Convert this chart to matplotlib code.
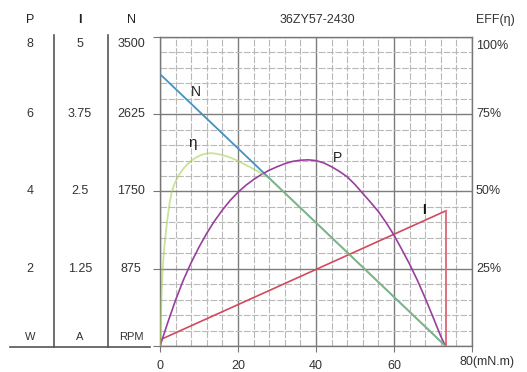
import matplotlib
matplotlib.use('Agg')
import matplotlib.pyplot as plt
from matplotlib.ticker import MultipleLocator
from matplotlib.transforms import blended_transform_factory as btf, offset_copy

plt.rcParams['font.family'] = ['Liberation Sans', 'DejaVu Sans']

# ---------------- data ----------------
title = "36ZY57-2430"
x_ticks = [0, 20, 40, 60]
x_last_label = "80(mN.m)"

p_ticks = [2, 4, 6, 8]
p_labels = ["2", "4", "6", "8"]
i_ticks = [1.25, 2.5, 3.75, 5]
i_labels = ["1.25", "2.5", "3.75", "5"]
n_ticks = [875, 1750, 2625, 3500]
n_labels = ["875", "1750", "2625", "3500"]
eff_ticks = [25, 50, 75, 100]
eff_labels = ["25%", "50%", "75%", "100%"]

# speed N (RPM)
n_torque = [0, 73.2]
n_speed = [3080, 0]

# current I (A)
i_torque = [0, 73.4, 73.4]
i_current = [0.10, 2.19, 0.0]

# efficiency (%)
eff_torque = [0.1, 0.2, 0.35, 0.5, 0.7, 1.0, 1.3, 1.7, 2.1, 2.5, 3.0, 3.5,
              4.0, 5.0, 6.0, 7.0, 8.0, 9.0, 10, 11, 12, 13, 14, 16, 18, 20,
              22, 24, 26, 28, 30, 32, 36, 40, 44, 48, 52, 56, 60, 64, 68, 73.2]
eff_vals = [0, 7, 14, 20, 25, 30.5, 34.5, 39, 43, 46.5, 49.8, 51.8,
            53.3, 55.6, 57.4, 58.8, 59.9, 60.8, 61.5, 62.0, 62.3, 62.4, 62.3,
            61.8, 61.0, 59.9, 58.6, 57.3, 55.9, 54.2, 51.9, 49.5, 44.7, 39.9,
            35.1, 30.3, 25.5, 20.7, 15.9, 11.1, 6.3, 0]

# output power P (W)
p_torque = [0, 2, 4, 6, 8, 10, 12, 14, 16, 18, 20, 22, 24, 26, 28, 30, 32,
            34, 36, 38, 40, 42, 44, 46, 48, 50, 52, 54, 56, 58, 60, 62, 64,
            66, 68, 70, 72, 73.2]
p_vals = [0, 0.61, 1.19, 1.71, 2.16, 2.56, 2.92, 3.24, 3.52, 3.77, 3.98,
          4.16, 4.31, 4.44, 4.55, 4.64, 4.72, 4.78, 4.81, 4.82, 4.80, 4.74,
          4.64, 4.52, 4.38, 4.18, 3.95, 3.72, 3.48, 3.19, 2.87, 2.50, 2.12,
          1.70, 1.24, 0.75, 0.25, 0]

# ---------------- figure ----------------
W, H = 527, 372
fig = plt.figure(figsize=(W / 100, H / 100), dpi=100)
fig.patch.set_facecolor('white')

def fx(px):
    return px / W

def fy(py):
    return 1 - py / H

left, right, top, bottom = 160, 472, 37, 346
ax = fig.add_axes([fx(left), fy(bottom), (right - left) / W, (bottom - top) / H])
ax.set_xlim(0, 80)
ax.set_ylim(0, 100)

ax.xaxis.set_major_locator(MultipleLocator(20))
ax.xaxis.set_minor_locator(MultipleLocator(4))
ax.yaxis.set_major_locator(MultipleLocator(25))
ax.yaxis.set_minor_locator(MultipleLocator(5))
ax.grid(which='major', color='#7d7d7d', lw=1.0)
ax.grid(which='minor', color='#b8b8b8', lw=0.8, linestyle=(0, (6, 1.5)))
ax.set_axisbelow(True)
for s in ax.spines.values():
    s.set_color('#777777')
    s.set_linewidth(1.0)

ax.tick_params(axis='both', which='minor', length=0)
ax.tick_params(axis='x', which='major', length=4, color='#777777',
               labelsize=9, labelcolor='#333333', pad=6)
ax.tick_params(axis='y', which='major', left=True, right=True, length=5,
               color='#777777', labelleft=False, labelright=False)
ax.set_xticks(x_ticks + [80])
ax.set_xticklabels([str(v) for v in x_ticks] + [""])
ax.text(459 / W, fy(362), x_last_label, transform=fig.transFigure,
        fontsize=9, color='#333333', ha='left', va='center')

# twin axes for each scale
axN = ax.twinx(); axN.set_ylim(0, 3500); axN.set_axis_off()
axI = ax.twinx(); axI.set_ylim(0, 5); axI.set_axis_off()
axP = ax.twinx(); axP.set_ylim(0, 8); axP.set_axis_off()
axE = ax.twinx(); axE.set_ylim(0, 100); axE.set_axis_off()

c_n = '#4392c4'
c_eff = '#a6cf55'
c_p = '#9a3e9e'
c_i = '#d04a5c'

axN.plot(n_torque, n_speed, color=c_n, lw=1.3)
axP.plot(p_torque, p_vals, color=c_p, lw=1.2)
axI.plot(i_torque[:2], i_current[:2], color=c_i, lw=1.2)
axI.plot(i_torque[1:], i_current[1:], color='#e0707e', lw=1.4)
axE.plot(eff_torque, eff_vals, color=c_eff, lw=1.3, alpha=0.6)

# curve labels
axN.text(9.2, 2880, "N", fontsize=10, ha='center', va='center', color='#222222')
axE.text(8.4, 65.7, "η", fontsize=11, ha='center', va='center', color='#222222')
axP.text(45.6, 4.87, "P", fontsize=10, ha='center', va='center', color='#222222')
axI.text(67.7, 2.2, "I", fontsize=10, ha='center', va='center', color='#111111',
         fontweight='bold')

# left columns
txt_kw = dict(fontsize=9, color='#333333', ha='center', va='center')
cols = [(30, axP, p_ticks, p_labels, "P", "W"),
        (80, axI, i_ticks, i_labels, "I", "A"),
        (131, axN, n_ticks, n_labels, "N", "RPM")]
for xpx, a, vals, labs, head, unit in cols:
    tr = btf(fig.transFigure, a.transData)
    for v, lab in zip(vals, labs):
        t = tr
        if v == vals[-1]:
            t = offset_copy(tr, fig=fig, y=-7.5, units='dots')
        fig.text(fx(xpx), v, lab, transform=t, **txt_kw)
    fig.text(fx(xpx), fy(20), head, fontsize=9, color='#222222', ha='center',
             va='center', fontweight='bold' if head == "I" else 'normal')
    fig.text(fx(xpx), fy(337), unit, fontsize=8, color='#333333', ha='center',
             va='center')

# column separators and base line
for xpx in (53.5, 107.5):
    fig.add_artist(plt.Line2D([fx(xpx), fx(xpx)], [fy(35), fy(347)],
                              transform=fig.transFigure, color='#555555', lw=1.2))
fig.add_artist(plt.Line2D([fx(10), fx(150)], [fy(347), fy(347)],
                          transform=fig.transFigure, color='#555555', lw=1.2))

# right efficiency labels
trE = btf(fig.transFigure, ax.transData)
for v, lab in zip(eff_ticks, eff_labels):
    t = trE
    if v == eff_ticks[-1]:
        t = offset_copy(trE, fig=fig, y=-9, units='dots')
    fig.text(fx(476), v, lab, transform=t, fontsize=9, color='#333333',
             ha='left', va='center')

# titles
fig.text(fx(317), fy(20), title, fontsize=9, color='#333333', ha='center', va='center')
fig.text(fx(495), fy(20), "EFF(η)", fontsize=9, color='#333333', ha='center', va='center')

fig.savefig('out.png', dpi=100)
